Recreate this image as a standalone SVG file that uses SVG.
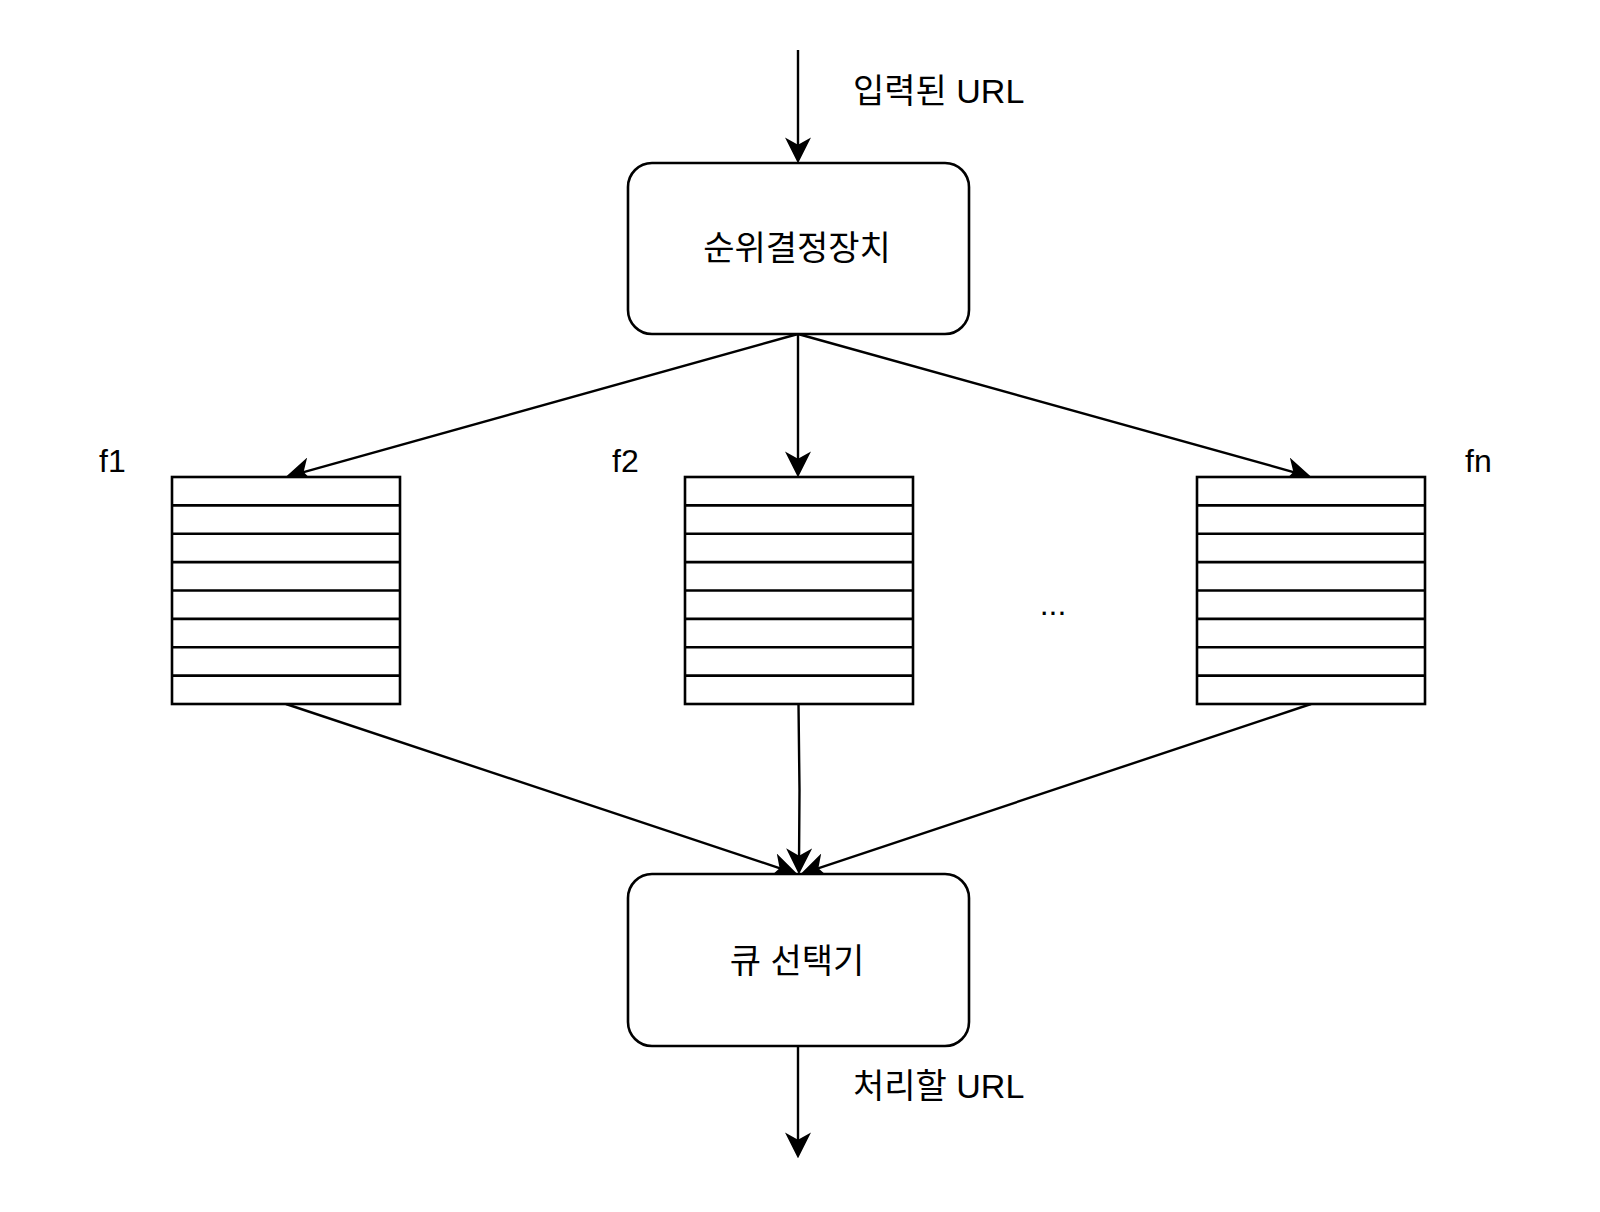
<svg xmlns="http://www.w3.org/2000/svg" xmlns:xlink="http://www.w3.org/1999/xlink" width="1600" height="1212" viewBox="0 0 1600 1212">
<style>
.box{fill:#fff;stroke:#000;stroke-width:2.6}
.row{stroke:#000;stroke-width:2.6;fill:none}
.edge{fill:none;stroke:#000;stroke-width:2.4}
.t{font-family:"Liberation Sans","Noto Sans CJK KR",sans-serif;font-size:32px;fill:#000}
.k{font-size:34px}
.c{text-anchor:middle}
</style>
<defs>
<marker id="arr" markerUnits="userSpaceOnUse" markerWidth="26" markerHeight="26" viewBox="0 0 25 25" refX="15" refY="12.5" orient="auto">
<path d="M0,0 L25,12.5 L0,25 L7,12.5 Z" fill="#000"/>
</marker>
<g id="queue">
<rect class="box" x="0" y="0" width="228" height="227"/>
<path class="row" d="M0,28.4H228M0,56.8H228M0,85.1H228M0,113.5H228M0,141.9H228M0,170.3H228M0,198.6H228"/>
</g>
</defs>
<rect width="1600" height="1212" fill="#fff"/>
<g id="connectors">
<path class="edge" d="M798,50 L798,153" marker-end="url(#arr)"/>
<path class="edge" d="M798,334 L295.6,474.3" marker-end="url(#arr)"/>
<path class="edge" d="M798,334 L798,467" marker-end="url(#arr)"/>
<path class="edge" d="M798,334 L1301.4,474.3" marker-end="url(#arr)"/>
<path class="edge" d="M286,704 L787.5,870.8" marker-end="url(#arr)"/>
<path class="edge" d="M798.5,704 L799.5,790 L799,864" marker-end="url(#arr)"/>
<path class="edge" d="M1311,704 L810.5,870.8" marker-end="url(#arr)"/>
<path class="edge" d="M798,1046 L798,1148" marker-end="url(#arr)"/>
</g>
<g id="label-in"><text class="t k" x="853" y="103">입력된 URL</text></g>
<g id="label-out"><text class="t k" x="853" y="1098">처리할 URL</text></g>
<g id="prioritizer">
<rect class="box" x="628" y="163" width="341" height="171" rx="24" ry="24"/>
<text class="t k c" x="797" y="260">순위결정장치</text>
</g>
<g id="queue-f1">
<use xlink:href="#queue" x="172" y="477"/>
<text class="t" x="99" y="472">f1</text>
</g>
<g id="queue-f2">
<use xlink:href="#queue" x="685" y="477"/>
<text class="t" x="612" y="472">f2</text>
</g>
<g id="ellipsis"><text class="t c" x="1053" y="615">...</text></g>
<g id="queue-fn">
<use xlink:href="#queue" x="1197" y="477"/>
<text class="t" x="1465" y="472">fn</text>
</g>
<g id="selector">
<rect class="box" x="628" y="874" width="341" height="172" rx="24" ry="24"/>
<text class="t k c" x="797" y="973">큐 선택기</text>
</g>
</svg>
